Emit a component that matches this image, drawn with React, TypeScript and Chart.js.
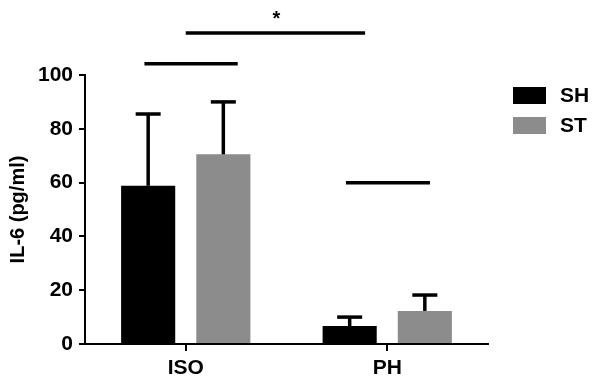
import React, { useEffect, useRef } from "react";
import { Chart, registerables } from "chart.js";

Chart.register(...registerables);

const categories = ["ISO", "PH"];
const seriesLabels = ["SH", "ST"];
const shValues = [58.8, 6.7];
const stValues = [70.5, 12.3];
const shErrors = [26.7, 3.3];
const stErrors = [19.5, 5.9];
const yTicks = [0, 20, 40, 60, 80, 100];
// significance brackets: [xStart (category units), xEnd, y value]
const sigLines = [
  [0, 0.89, 115.6],
  [-0.205, 0.258, 104.2],
  [0.795, 1.212, 59.9],
];
const sigStars = [{ text: "*", x: 0.45, y: 123 }];

const FONT = "'Liberation Sans', Arial, Helvetica, sans-serif";
const colors = ["#000000", "#8c8c8c"];

export default function App() {
  const ref = useRef<HTMLCanvasElement | null>(null);

  useEffect(() => {
    if (!ref.current) return;
    const errors = [shErrors, stErrors];

    const errorBars = {
      id: "errorBars",
      afterDatasetsDraw(chart: any) {
        const ctx = chart.ctx;
        const yScale = chart.scales.y;
        ctx.save();
        chart.data.datasets.forEach((ds: any, di: number) => {
          const meta = chart.getDatasetMeta(di);
          meta.data.forEach((el: any, i: number) => {
            const v = ds.data[i];
            const top = yScale.getPixelForValue(v + errors[di][i]);
            ctx.strokeStyle = "#000";
            ctx.lineWidth = 3.5;
            ctx.lineCap = "butt";
            ctx.beginPath();
            ctx.moveTo(el.x, el.y);
            ctx.lineTo(el.x, top);
            ctx.stroke();
            ctx.beginPath();
            ctx.moveTo(el.x - 12.5, top);
            ctx.lineTo(el.x + 12.5, top);
            ctx.stroke();
          });
        });
        ctx.restore();
      },
    };

    const overlays = {
      id: "overlays",
      afterDraw(chart: any) {
        const ctx = chart.ctx;
        const xs = chart.scales.x;
        const ys = chart.scales.y;
        ctx.save();
        ctx.strokeStyle = "#000";
        ctx.lineWidth = 3.5;
        sigLines.forEach(([a, b, y]) => {
          ctx.beginPath();
          ctx.moveTo(xs.getPixelForValue(a), ys.getPixelForValue(y));
          ctx.lineTo(xs.getPixelForValue(b), ys.getPixelForValue(y));
          ctx.stroke();
        });
        ctx.fillStyle = "#000";
        ctx.font = `bold 20px ${FONT}`;
        ctx.textAlign = "center";
        ctx.textBaseline = "alphabetic";
        sigStars.forEach((s) => {
          ctx.fillText(s.text, xs.getPixelForValue(s.x), ys.getPixelForValue(s.y) + 11.5);
        });
        // legend
        ctx.font = `bold 21px ${FONT}`;
        ctx.textAlign = "left";
        ctx.textBaseline = "middle";
        chart.data.datasets.forEach((ds: any, i: number) => {
          const top = 87 + i * 30;
          ctx.fillStyle = ds.backgroundColor;
          ctx.fillRect(513, top, 33, 17);
          ctx.fillStyle = "#000";
          ctx.fillText(ds.label, 560, top + 9);
        });
        ctx.restore();
      },
    };

    const chart = new Chart(ref.current, {
      type: "bar",
      data: {
        labels: categories,
        datasets: [
          { label: seriesLabels[0], data: shValues, backgroundColor: colors[0] },
          { label: seriesLabels[1], data: stValues, backgroundColor: colors[1] },
        ],
      },
      options: {
        animation: false,
        responsive: true,
        maintainAspectRatio: false,
        layout: { padding: { top: 75, right: 112, left: 0, bottom: 0 } },
        datasets: { bar: { categoryPercentage: 0.746, barPercentage: 0.72 } },
        plugins: { legend: { display: false }, tooltip: { enabled: false } },
        scales: {
          x: {
            afterFit(scale: any) {
              scale.height = 42;
            },
            grid: {
              display: true,
              drawOnChartArea: false,
              offset: false,
              tickLength: 7,
              color: "#000",
              lineWidth: 2,
            },
            border: { display: true, color: "#000", width: 2 },
            ticks: {
              color: "#000",
              padding: 5,
              font: { family: FONT, size: 21, weight: "bold" },
            },
          },
          y: {
            min: 0,
            max: 100,
            afterFit(scale: any) {
              scale.width = 85;
            },
            afterBuildTicks(scale: any) {
              scale.ticks = yTicks.map((v) => ({ value: v }));
            },
            grid: {
              display: true,
              drawOnChartArea: false,
              tickLength: 6,
              color: "#000",
              lineWidth: 2,
            },
            border: { display: true, color: "#000", width: 2 },
            ticks: {
              color: "#000",
              padding: 6,
              font: { family: FONT, size: 21, weight: "bold" },
            },
            title: {
              display: true,
              text: "IL-6 (pg/ml)",
              color: "#000",
              padding: { top: 6, bottom: 0 },
              font: { family: FONT, size: 20, weight: "bold" },
            },
          },
        },
      },
      plugins: [errorBars, overlays],
    });
    return () => chart.destroy();
  }, []);

  return (
    <div style={{ position: "absolute", left: 0, top: 0, width: 600, height: 386, background: "#fff" }}>
      <canvas ref={ref} />
    </div>
  );
}
